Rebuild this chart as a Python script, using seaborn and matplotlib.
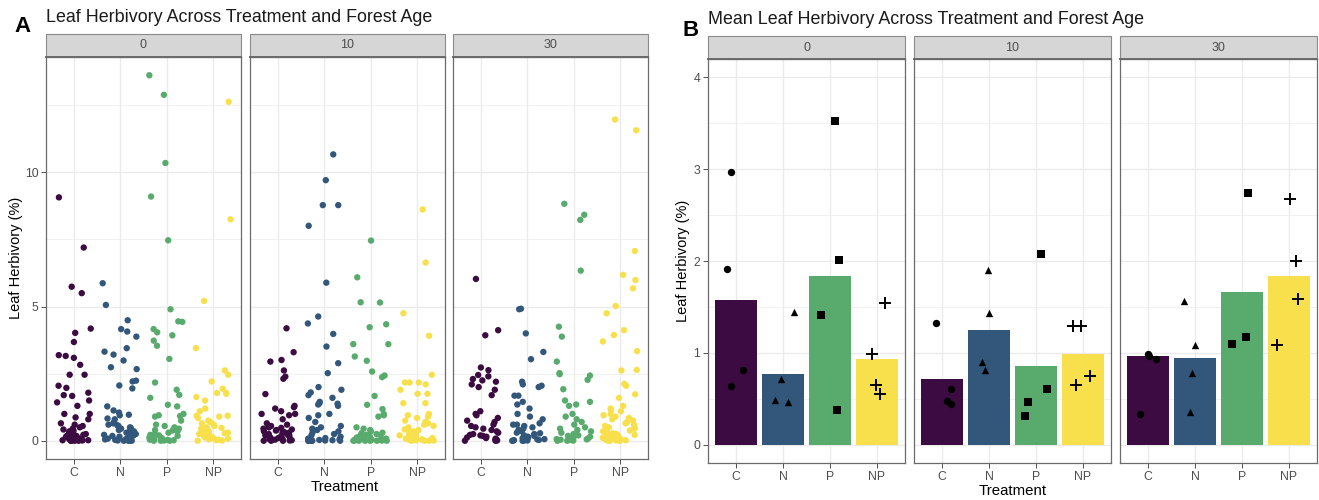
import numpy as np
import pandas as pd
import matplotlib
matplotlib.use("Agg")
import matplotlib.pyplot as plt
from matplotlib.patches import Rectangle
import seaborn as sns

plt.rcParams["font.family"] = ["Liberation Sans", "DejaVu Sans"]

treatments = ["C", "N", "P", "NP"]
ages = ["0", "10", "30"]
palette4 = ["#3B0B42", "#32577B", "#58AB6C", "#F7E04B"]

# ---------------- Panel A: leaf-level herbivory (%) ----------------
a0_C = [9.07, 7.2, 5.74, 5.5, 4.18, 4.02, 3.68, 3.19, 3.16, 3.09, 2.83, 2.46, 2.46, 2.05, 1.97,
        1.79, 1.7, 1.67, 1.5, 1.43, 1.3, 1.0, 1.0, 0.87, 0.8,
        0.65, 0.6, 0.55, 0.5, 0.45, 0.42, 0.38, 0.35, 0.3, 0.28, 0.25, 0.22, 0.2, 0.18, 0.15,
        0.12, 0.1, 0.08, 0.06, 0.05, 0.04, 0.03, 0.02, 0.02, 0.01, 0.01, 0.0, 0.0, 0.0, 0.0]
a0_N = [5.87, 5.06, 4.49, 4.16, 4.07, 3.88, 3.45, 3.32, 3.21, 2.99, 2.74, 2.67, 2.24, 2.21, 2.06,
        1.95, 1.28, 1.13, 1.05, 0.97, 0.95, 0.83, 0.8,
        0.7, 0.65, 0.6, 0.58, 0.55, 0.5, 0.48, 0.45, 0.4, 0.38, 0.35, 0.3, 0.28, 0.25, 0.22,
        0.2, 0.18, 0.15, 0.12, 0.1, 0.08, 0.06, 0.05, 0.03, 0.02, 0.01, 0.0, 0.0, 0.0, 0.0]
a0_P = [13.62, 12.89, 10.35, 9.1, 7.47, 4.9, 4.45, 4.43, 4.16, 4.04, 3.93, 3.73, 3.54, 3.05, 2.17,
        1.9, 1.71, 1.6, 1.34, 1.28, 1.0, 0.95, 0.9, 0.92,
        0.75, 0.6, 0.55, 0.5, 0.45, 0.4, 0.38, 0.35, 0.3, 0.25, 0.22, 0.2, 0.18, 0.15, 0.12,
        0.1, 0.08, 0.05, 0.04, 0.03, 0.02, 0.01, 0.0, 0.0, 0.0]
a0_NP = [12.63, 8.25, 5.21, 3.45, 2.62, 2.46, 2.21, 1.94, 1.78, 1.78, 1.75, 1.63, 1.5, 1.2, 1.1,
         0.93, 0.93, 0.9, 0.85,
         0.75, 0.7, 0.65, 0.6, 0.55, 0.5, 0.48, 0.45, 0.4, 0.38, 0.35, 0.32, 0.3, 0.28, 0.25,
         0.2, 0.18, 0.15, 0.12, 0.1, 0.08, 0.05, 0.04, 0.02, 0.01, 0.0]
a10_C = [4.19, 3.3, 3.01, 2.95, 2.62, 2.39, 2.31, 1.74, 1.3, 1.25, 1.2, 1.1, 1.0, 1.0, 0.95,
         0.8, 0.6, 0.65, 0.55,
         0.5, 0.48, 0.45, 0.42, 0.4, 0.38, 0.35, 0.32, 0.3, 0.28, 0.25, 0.22, 0.2, 0.18, 0.15,
         0.12, 0.1, 0.08, 0.06, 0.05, 0.04, 0.02, 0.01, 0.0, 0.0, 0.0]
a10_N = [10.67, 9.71, 8.78, 8.78, 8.01, 5.89, 4.63, 4.37, 3.98, 3.51, 2.89, 2.52, 2.0, 1.9, 1.8,
         1.7, 1.6, 1.45, 1.4, 1.38, 1.35, 1.3, 1.0, 0.95, 0.85, 0.7, 0.55,
         0.5, 0.45, 0.4, 0.35, 0.3, 0.25, 0.2, 0.15, 0.1, 0.08, 0.05, 0.03, 0.02, 0.01,
         0.0, 0.0, 0.0, 0.0, 0.0, 0.0, 0.0, 0.0]
a10_P = [7.46, 6.09, 5.16, 5.15, 4.34, 4.23, 3.6, 3.6, 3.14, 2.98, 2.58, 2.43, 2.37, 1.67, 1.34,
         1.18, 1.0, 0.95, 0.9, 0.5,
         0.45, 0.4, 0.35, 0.3, 0.28, 0.25, 0.22, 0.2, 0.18, 0.15, 0.12, 0.1, 0.08, 0.06, 0.05,
         0.04, 0.03, 0.02, 0.01, 0.01, 0.0, 0.0, 0.0, 0.0, 0.0, 0.0]
a10_NP = [8.62, 6.64, 4.75, 3.91, 2.46, 2.17, 2.17, 2.17, 2.1, 1.9, 1.75, 1.75, 1.4, 1.4, 1.0,
          0.95, 0.9, 0.85,
          0.75, 0.7, 0.65, 0.6, 0.55, 0.5, 0.45, 0.42, 0.4, 0.35, 0.3, 0.28, 0.25, 0.2, 0.18,
          0.15, 0.12, 0.1, 0.08, 0.05, 0.04, 0.03, 0.02, 0.01, 0.0, 0.0, 0.0]
a30_C = [6.03, 4.12, 3.93, 2.73, 2.63, 2.45, 2.4, 2.3, 2.2, 2.25, 2.1, 2.0, 1.9, 1.7, 1.1, 1.0,
         0.95, 0.85, 0.75, 0.7, 0.6,
         0.55, 0.5, 0.45, 0.4, 0.35, 0.3, 0.25, 0.22, 0.2, 0.18, 0.15, 0.12, 0.1, 0.08, 0.05,
         0.04, 0.02, 0.01, 0.0, 0.0]
a30_N = [4.9, 4.92, 4.0, 3.31, 3.04, 2.2, 2.1, 2.05, 2.0, 1.68, 1.68, 1.45, 1.35, 1.2, 1.0, 0.9,
         0.8, 0.65, 0.6, 0.6, 0.55,
         0.5, 0.45, 0.4, 0.35, 0.3, 0.28, 0.25, 0.2, 0.18, 0.15, 0.12, 0.1, 0.08, 0.06, 0.05,
         0.03, 0.02, 0.01, 0.0, 0.0, 0.0, 0.0]
a30_P = [8.83, 8.42, 8.23, 6.34, 4.25, 3.88, 2.95, 2.52, 2.48, 2.43, 2.27, 1.92, 1.5, 1.45, 1.35,
         1.3, 1.0, 0.9, 0.8, 0.7, 0.6,
         0.5, 0.45, 0.4, 0.35, 0.3, 0.25, 0.2, 0.18, 0.15, 0.12, 0.1, 0.08, 0.06, 0.05, 0.04,
         0.03, 0.02, 0.01, 0.0, 0.0]
a30_NP = [11.97, 11.57, 7.07, 6.18, 5.99, 5.68, 5.02, 4.75, 4.12, 3.94, 3.7, 3.34, 2.64, 2.62,
          2.12, 2.05, 1.73, 1.6, 1.3, 1.2, 1.15, 1.1, 1.0, 0.95, 0.9, 0.85, 0.8,
          0.75, 0.7, 0.65, 0.6, 0.55, 0.5, 0.48, 0.45, 0.4, 0.38, 0.35, 0.32, 0.3, 0.28, 0.25,
          0.22, 0.2, 0.18, 0.15, 0.12, 0.1, 0.08, 0.06, 0.05, 0.04, 0.03, 0.02, 0.01, 0.0, 0.0, 0.0]

# ---------------- Panel B: plot-level means ----------------
b0_C = [2.97, 1.91, 0.81, 0.64]
b0_N = [1.44, 0.72, 0.49, 0.46]
b0_P = [3.53, 2.01, 1.41, 0.38]
b0_NP = [1.54, 0.99, 0.65, 0.55]
b10_C = [1.33, 0.61, 0.48, 0.44]
b10_N = [1.90, 1.43, 0.90, 0.81]
b10_P = [2.08, 0.61, 0.46, 0.31]
b10_NP = [1.29, 1.29, 0.75, 0.65]
b30_C = [0.99, 0.97, 0.93, 0.33]
b30_N = [1.56, 1.08, 0.78, 0.36]
b30_P = [2.74, 1.17, 1.10]
b30_NP = [2.67, 2.00, 1.59, 1.08]

mean_0 = [1.58, 0.77, 1.84, 0.93]
mean_10 = [0.71, 1.25, 0.86, 0.99]
mean_30 = [0.96, 0.94, 1.66, 1.84]

markers = {"C": "o", "N": "^", "P": "s", "NP": "+"}

leafA = {"0": [a0_C, a0_N, a0_P, a0_NP],
         "10": [a10_C, a10_N, a10_P, a10_NP],
         "30": [a30_C, a30_N, a30_P, a30_NP]}
plotB = {"0": [b0_C, b0_N, b0_P, b0_NP],
         "10": [b10_C, b10_N, b10_P, b10_NP],
         "30": [b30_C, b30_N, b30_P, b30_NP]}
meansB = {"0": mean_0, "10": mean_10, "30": mean_30}

rows = []
for age in ages:
    for t, vals in zip(treatments, leafA[age]):
        rows += [(age, t, v) for v in vals]
dfA = pd.DataFrame(rows, columns=["age", "treatment", "herbivory"])

rows = []
for age in ages:
    for t, vals in zip(treatments, plotB[age]):
        rows += [(age, t, v) for v in vals]
dfB = pd.DataFrame(rows, columns=["age", "treatment", "herbivory"])

rows = []
for age in ages:
    for t, v in zip(treatments, meansB[age]):
        rows.append((age, t, v))
dfM = pd.DataFrame(rows, columns=["age", "treatment", "mean"])

# ---------------- figure ----------------
W, H = 1319, 500
fig = plt.figure(figsize=(W / 100, H / 100), dpi=100)

GRID = "#EBEBEB"
BORDER = "#6a6a6a"
TICKC = "#4D4D4D"


def px_axes(x0, top, w, h):
    return fig.add_axes([x0 / W, 1 - (top + h) / H, w / W, h / H])


def style(ax, ylim, major, minor, first, strip_label, strip_h, ax_h):
    ax.set_xlim(-0.6, 3.6)
    ax.set_ylim(*ylim)
    ax.set_yticks(major)
    ax.set_yticks(minor, minor=True)
    ax.set_axisbelow(True)
    ax.grid(which="major", color=GRID, lw=1.0)
    ax.grid(which="minor", axis="y", color=GRID, lw=0.5)
    for s in ax.spines.values():
        s.set_color(BORDER)
        s.set_linewidth(0.9)
    ax.tick_params(axis="both", which="major", length=3.5, width=0.6, color="#333333",
                   labelcolor=TICKC, labelsize=8.8, pad=2)
    ax.tick_params(which="minor", length=0)
    ax.set_xlabel("")
    ax.set_ylabel("")
    if not first:
        ax.tick_params(axis="y", which="major", length=0, labelleft=False)
    frac = strip_h / ax_h
    ax.add_patch(Rectangle((0, 1), 1, frac, transform=ax.transAxes, facecolor="#D6D6D6",
                           edgecolor="#8a8a8a", lw=0.8, clip_on=False, zorder=5))
    ax.plot([0, 1], [1, 1], transform=ax.transAxes, color="#6a6a6a", lw=1.4,
            clip_on=False, zorder=6)
    ax.text(0.5, 1 + frac / 2, strip_label, transform=ax.transAxes, ha="center",
            va="center", fontsize=9, color="#4D4D4D", zorder=7)


# Panel A
np.random.seed(7)
A_lefts = [46, 250, 453]
A_w, A_top, A_h, A_strip = 195, 57, 402, 23
for i, age in enumerate(ages):
    ax = px_axes(A_lefts[i], A_top, A_w, A_h)
    sub = dfA[dfA["age"] == age]
    sns.stripplot(data=sub, x="treatment", y="herbivory", hue="treatment", order=treatments,
                  hue_order=treatments, palette=palette4, jitter=0.38, size=4.6,
                  linewidth=0, legend=False, ax=ax)
    style(ax, (-0.68, 14.3), [0, 5, 10], [2.5, 7.5, 12.5], i == 0, age, A_strip, A_h)

# Panel B
B_lefts = [708, 914, 1120]
B_w, B_top, B_h, B_strip = 197, 59, 404, 23
for i, age in enumerate(ages):
    ax = px_axes(B_lefts[i], B_top, B_w, B_h)
    msub = dfM[dfM["age"] == age]
    sns.barplot(data=msub, x="treatment", y="mean", hue="treatment", order=treatments,
                hue_order=treatments, palette=palette4, saturation=1, width=0.9,
                errorbar=None, legend=False, ax=ax)
    for t in treatments:
        psub = dfB[(dfB["age"] == age) & (dfB["treatment"] == t)]
        m = markers[t]
        if m == "+":
            sns.stripplot(data=psub, x="treatment", y="herbivory", order=treatments,
                          color="black", marker=m, size=8, linewidth=1.4, jitter=0.25,
                          ax=ax, zorder=4)
        else:
            sns.stripplot(data=psub, x="treatment", y="herbivory", order=treatments,
                          color="black", marker=m, size=5.3, linewidth=0, jitter=0.25,
                          ax=ax, zorder=4)
    style(ax, (-0.2, 4.2), [0, 1, 2, 3, 4], [0.5, 1.5, 2.5, 3.5], i == 0, age, B_strip, B_h)

# Titles, tags and axis labels
fig.text(46 / W, 1 - 18 / H, "Leaf Herbivory Across Treatment and Forest Age", fontsize=12.9,
         va="center", ha="left", color="#1A1A1A")
fig.text(14 / W, 1 - 27 / H, "A", fontsize=16, fontweight="bold", va="center", ha="left")
fig.text(708 / W, 1 - 20 / H, "Mean Leaf Herbivory Across Treatment and Forest Age",
         fontsize=12.9, va="center", ha="left", color="#1A1A1A")
fig.text(682 / W, 1 - 30 / H, "B", fontsize=16, fontweight="bold", va="center", ha="left")

fig.text(16 / W, 1 - 258 / H, "Leaf Herbivory (%)", rotation=90, fontsize=10.5,
         va="center", ha="center")
fig.text(683 / W, 1 - 261 / H, "Leaf Herbivory (%)", rotation=90, fontsize=10.5,
         va="center", ha="center")
fig.text(345 / W, 1 - 487 / H, "Treatment", fontsize=10.8, va="center", ha="center")
fig.text(1013 / W, 1 - 491 / H, "Treatment", fontsize=10.8, va="center", ha="center")

fig.savefig("out.png", dpi=100, facecolor="white")
